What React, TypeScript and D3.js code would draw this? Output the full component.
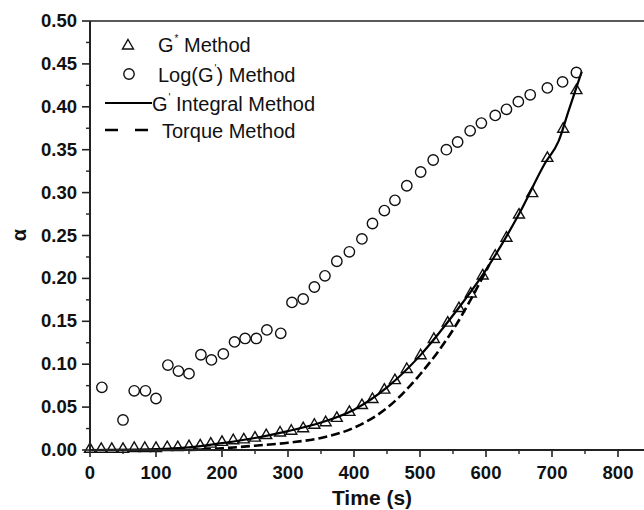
import React from "react";
import * as d3 from "d3";

const xTicks = [0, 100, 200, 300, 400, 500, 600, 700, 800];
const yTicks = [0, 0.05, 0.1, 0.15, 0.2, 0.25, 0.3, 0.35, 0.4, 0.45, 0.5];

const triX = [0, 17, 33, 50, 67, 83, 100, 117, 133, 150, 167, 183, 200, 217, 233, 250, 267, 288, 305, 323, 340, 357, 374, 393, 412, 428, 446, 462, 480, 501, 521, 542, 559, 577, 595, 614, 631, 650, 670, 693, 717, 737];
const triY = [0.002, 0.002, 0.002, 0.002, 0.003, 0.003, 0.003, 0.004, 0.004, 0.005, 0.006, 0.008, 0.010, 0.012, 0.013, 0.015, 0.018, 0.021, 0.023, 0.026, 0.030, 0.033, 0.038, 0.045, 0.053, 0.060, 0.071, 0.082, 0.095, 0.111, 0.130, 0.149, 0.166, 0.183, 0.204, 0.227, 0.248, 0.275, 0.300, 0.341, 0.375, 0.420];

const cirX = [18, 50, 67, 84, 100, 118, 134, 150, 168, 184, 202, 219, 235, 252, 268, 289, 306, 323, 340, 356, 374, 393, 412, 428, 446, 462, 480, 501, 520, 540, 557, 576, 593, 614, 631, 649, 667, 693, 716, 737];
const cirY = [0.073, 0.035, 0.069, 0.069, 0.060, 0.099, 0.092, 0.089, 0.111, 0.105, 0.112, 0.126, 0.130, 0.130, 0.140, 0.136, 0.172, 0.176, 0.190, 0.203, 0.220, 0.231, 0.246, 0.264, 0.279, 0.291, 0.308, 0.324, 0.338, 0.350, 0.359, 0.372, 0.381, 0.390, 0.397, 0.406, 0.414, 0.422, 0.429, 0.440];

const intX = [0, 100, 150, 200, 250, 300, 350, 400, 450, 500, 550, 600, 650, 690, 710, 725, 745];
const intY = [0, 0.001, 0.003, 0.008, 0.014, 0.022, 0.032, 0.047, 0.073, 0.110, 0.157, 0.210, 0.275, 0.335, 0.360, 0.395, 0.441];

const torX = [150, 200, 250, 300, 350, 400, 450, 500, 550, 605];
const torY = [0.000, 0.002, 0.005, 0.0085, 0.014, 0.026, 0.049, 0.088, 0.140, 0.216];

const FONT = "'Liberation Sans', Arial, Helvetica, sans-serif";

export default function App() {
  const x = d3.scaleLinear().domain([0, 850]).range([90, 651]);
  const y = d3.scaleLinear().domain([0, 0.5]).range([450, 21]);
  const line = d3.line<[number, number]>().x((d) => x(d[0])).y((d) => y(d[1])).curve(d3.curveMonotoneX);
  const intPts = intX.map((v, i) => [v, intY[i]] as [number, number]);
  const torPts = torX.map((v, i) => [v, torY[i]] as [number, number]);
  const tri = (cx: number, cy: number) => `M${cx},${cy - 5.5}L${cx + 5.5},${cy + 4}L${cx - 5.5},${cy + 4}Z`;
  const xMinor = d3.range(50, 851, 100);
  const yMinor = d3.range(0.025, 0.5, 0.05);

  return (
    <svg width={644} height={510} style={{ position: "absolute", left: 0, top: 0, background: "#fff" }} fontFamily={FONT}>
      <rect width={644} height={510} fill="#fff" />
      {triX.map((v, i) => (
        <path key={"t" + i} d={tri(x(v), y(triY[i]))} fill="none" stroke="#111" strokeWidth={1.4} />
      ))}
      <path d={line(intPts) || ""} fill="none" stroke="#000" strokeWidth={2.2} />
      <path d={line(torPts) || ""} fill="none" stroke="#000" strokeWidth={2.6} strokeDasharray="9,4" />
      {cirX.map((v, i) => (
        <circle key={"c" + i} cx={x(v)} cy={y(cirY[i])} r={5.2} fill="none" stroke="#111" strokeWidth={1.4} />
      ))}
      <line x1={90} x2={651} y1={21} y2={21} stroke="#222" strokeWidth={1.6} />
      <line x1={90} x2={651} y1={450} y2={450} stroke="#222" strokeWidth={2} />
      <line x1={90} x2={90} y1={21} y2={451} stroke="#222" strokeWidth={2} />
      {xTicks.map((t) => (
        <g key={"xt" + t}>
          <line x1={x(t)} x2={x(t)} y1={450} y2={457} stroke="#222" strokeWidth={1.6} />
          <text x={x(t)} y={479} textAnchor="middle" fontSize={18.5} fontWeight="bold" fill="#111">{t}</text>
        </g>
      ))}
      {xMinor.map((t) => (
        <line key={"xm" + t} x1={x(t)} x2={x(t)} y1={450} y2={454} stroke="#222" strokeWidth={1.4} />
      ))}
      {yTicks.map((t) => (
        <g key={"yt" + t}>
          <line x1={82} x2={90} y1={y(t)} y2={y(t)} stroke="#222" strokeWidth={1.6} />
          <text x={77} y={y(t) + 6} textAnchor="end" fontSize={18.5} fontWeight="bold" fill="#111">{t.toFixed(2)}</text>
        </g>
      ))}
      {yMinor.map((t) => (
        <line key={"ym" + t} x1={86} x2={90} y1={y(t)} y2={y(t)} stroke="#222" strokeWidth={1.4} />
      ))}
      <text x={372} y={505} textAnchor="middle" fontSize={21} fontWeight="bold" fill="#111">Time (s)</text>
      <text transform="translate(26,235) rotate(-90)" textAnchor="middle" fontSize={20} fontWeight="bold" fill="#111">α</text>
      <path d={tri(128, 45)} fill="none" stroke="#111" strokeWidth={1.4} />
      <circle cx={129} cy={74} r={5.2} fill="none" stroke="#111" strokeWidth={1.4} />
      <line x1={105} x2={152} y1={103} y2={103} stroke="#000" strokeWidth={2.2} />
      <line x1={105} x2={148} y1={130} y2={130} stroke="#000" strokeWidth={2.4} strokeDasharray="13,17" />
      <g fontSize={20} fill="#111">
        <text x={158} y={52}>G<tspan fontSize={10} dx={1} dy={-10}>*</tspan><tspan dy={10}> Method</tspan></text>
        <text x={158} y={82}>Log(G<tspan fontSize={10} dx={1} dy={-10}>'</tspan><tspan dy={10}>) Method</tspan></text>
        <text x={152} y={111}>G<tspan fontSize={10} dx={1} dy={-10}>'</tspan><tspan dy={10}> Integral Method</tspan></text>
        <text x={162} y={138}>Torque Method</text>
      </g>
    </svg>
  );
}
